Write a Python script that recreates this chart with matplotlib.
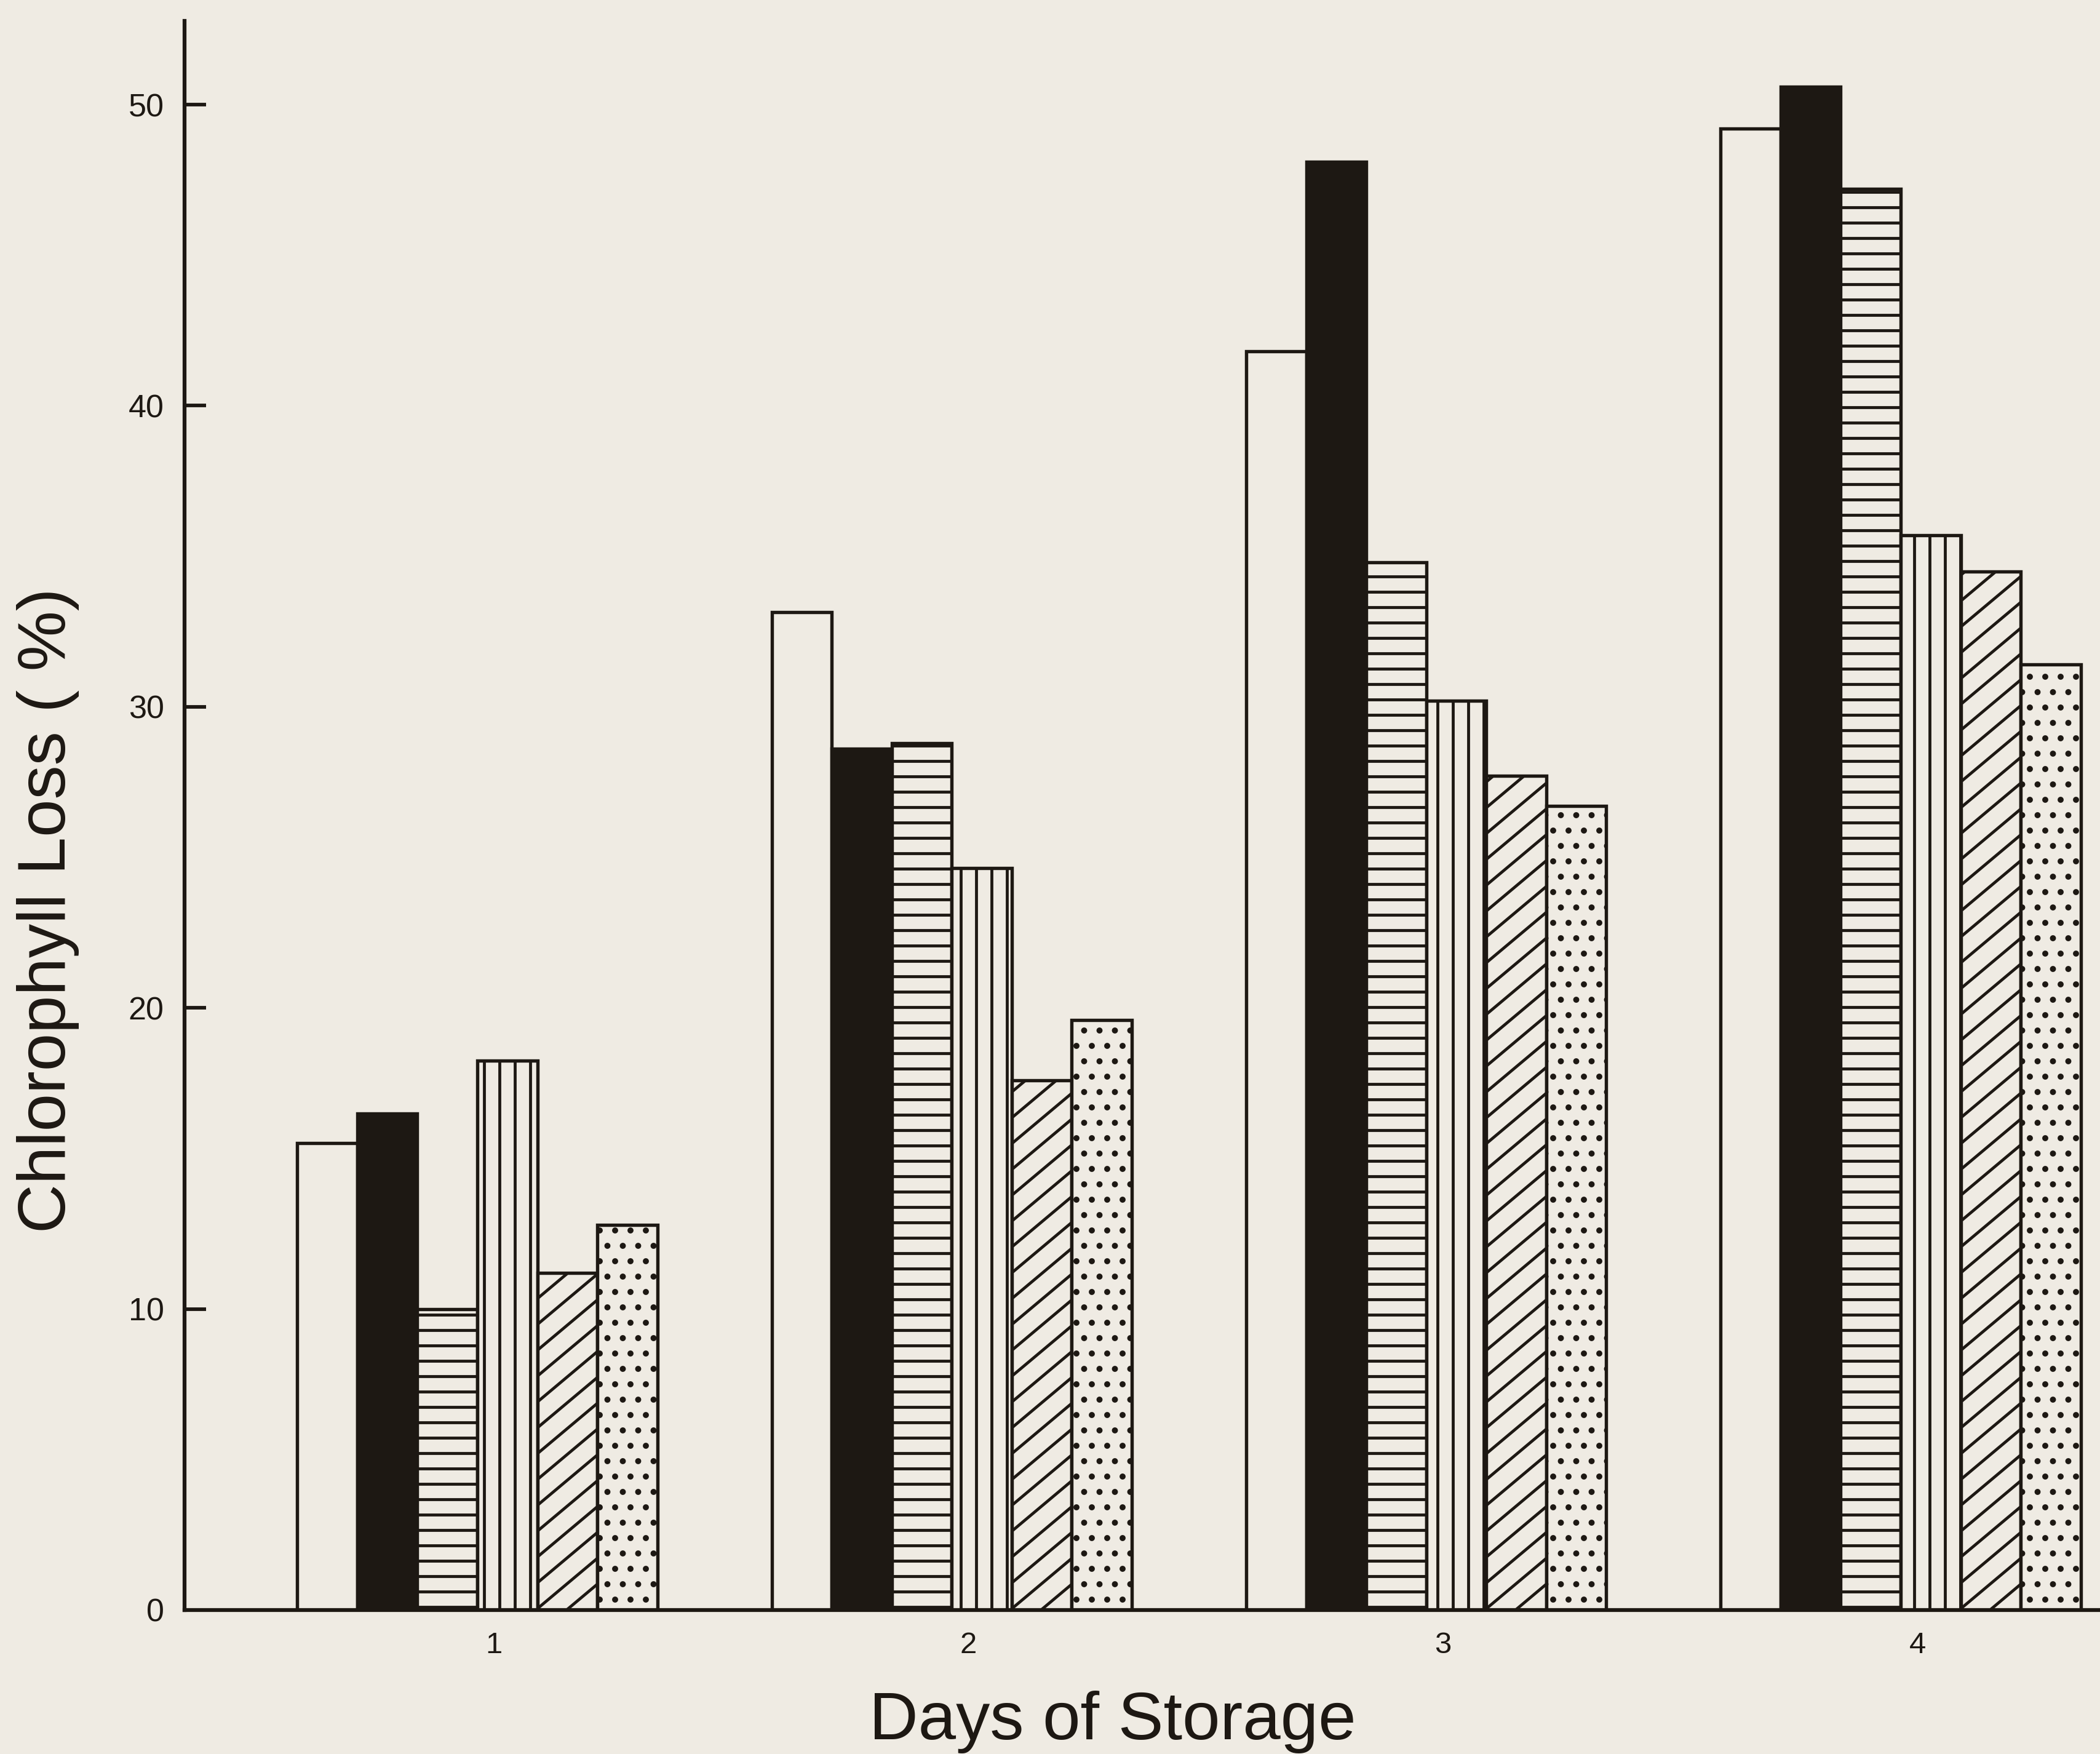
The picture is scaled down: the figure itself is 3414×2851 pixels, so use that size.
import numpy as np
import matplotlib
matplotlib.use("Agg")
import matplotlib.pyplot as plt
from matplotlib.collections import LineCollection
from matplotlib.transforms import IdentityTransform

# ---- data ----
days = [1, 2, 3, 4]
day_labels = ["1", "2", "3", "4"]
series_open = [15.5, 33.15, 41.8, 49.2]
series_solid = [16.5, 28.6, 48.1, 50.6]
series_horiz = [10.0, 28.8, 34.8, 47.2]
series_vert = [18.25, 24.65, 30.2, 35.7]
series_diag = [11.2, 17.6, 27.7, 34.5]
series_dots = [12.8, 19.6, 26.7, 31.4]
y_ticks = [0, 10, 20, 30, 40, 50]

INK = "#1d1813"
PAPER = "#efebe3"
FONT = ["Liberation Sans", "DejaVu Sans"]

plt.rcParams["font.family"] = FONT
plt.rcParams["hatch.linewidth"] = 2.3
plt.rcParams["hatch.color"] = INK

DPI = 150
fig = plt.figure(figsize=(3414 / DPI, 2851 / DPI), dpi=DPI, facecolor=PAPER)
ax = fig.add_axes([300 / 3414, 1 - 2617 / 2851, 1 - 300 / 3414, (2617 - 34) / 2851])
ax.set_facecolor(PAPER)

ax.set_xlim(0.383, 4.42)
ax.set_ylim(0, 52.78)

width = 0.1265
x = np.array(days, dtype=float)
styles = [
    (series_open, PAPER, ""),
    (series_solid, INK, ""),
    (series_horiz, PAPER, "-"),
    (series_vert, PAPER, "|"),
    (series_diag, PAPER, ""),
    (series_dots, PAPER, "."),
]
containers = []
for k, (vals, fc, hatch) in enumerate(styles):
    c = ax.bar(x + (k - 2.5) * width, vals, width=width, facecolor=fc,
               edgecolor=INK, linewidth=2.6, hatch=hatch, zorder=2)
    containers.append(c)

# hand-style diagonal hatching for the diagonal series, clipped to each bar
slope = np.tan(np.radians(40))
spacing = 42.0
for p in containers[4].patches:
    (x0, y0), (x1, y1) = ax.transData.transform(
        [(p.get_x(), 0.0), (p.get_x() + p.get_width(), p.get_height())])
    w = x1 - x0
    segs = []
    yy = y0 - w * slope
    while yy < y1:
        segs.append([(x0 - 5, yy - 5 * slope), (x1 + 5, yy + (w + 5) * slope)])
        yy += spacing
    lc = LineCollection(segs, colors=INK, linewidths=2.3,
                        transform=IdentityTransform(), zorder=2.5)
    ax.add_collection(lc, autolim=False)
    lc.set_clip_path(p.get_path(), p.get_transform())

# axes styling
for s in ["top", "right"]:
    ax.spines[s].set_visible(False)
for s in ["left", "bottom"]:
    ax.spines[s].set_color(INK)
    ax.spines[s].set_linewidth(3.0)
    ax.spines[s].set_zorder(3)

ax.set_yticks(y_ticks)
ax.set_yticklabels([str(v) for v in y_ticks])
ax.tick_params(axis="y", direction="in", length=17, width=2.8, color=INK,
               labelsize=25, labelcolor=INK, pad=16)
ax.set_xticks(x + 0.035)
ax.set_xticklabels(day_labels)
ax.tick_params(axis="x", length=0, labelsize=23.5, labelcolor=INK, pad=17)

fig.text(78 / 3414, 1 - 1480 / 2851, "Chlorophyll Loss ( %)", rotation=90,
         ha="center", va="center", fontsize=53, color=INK, family=FONT)
fig.text(1809 / 3414, 1 - 2827 / 2851, "Days of Storage", ha="center",
         va="baseline", fontsize=53, color=INK, family=FONT)

fig.savefig("out.png", dpi=DPI, facecolor=PAPER)
